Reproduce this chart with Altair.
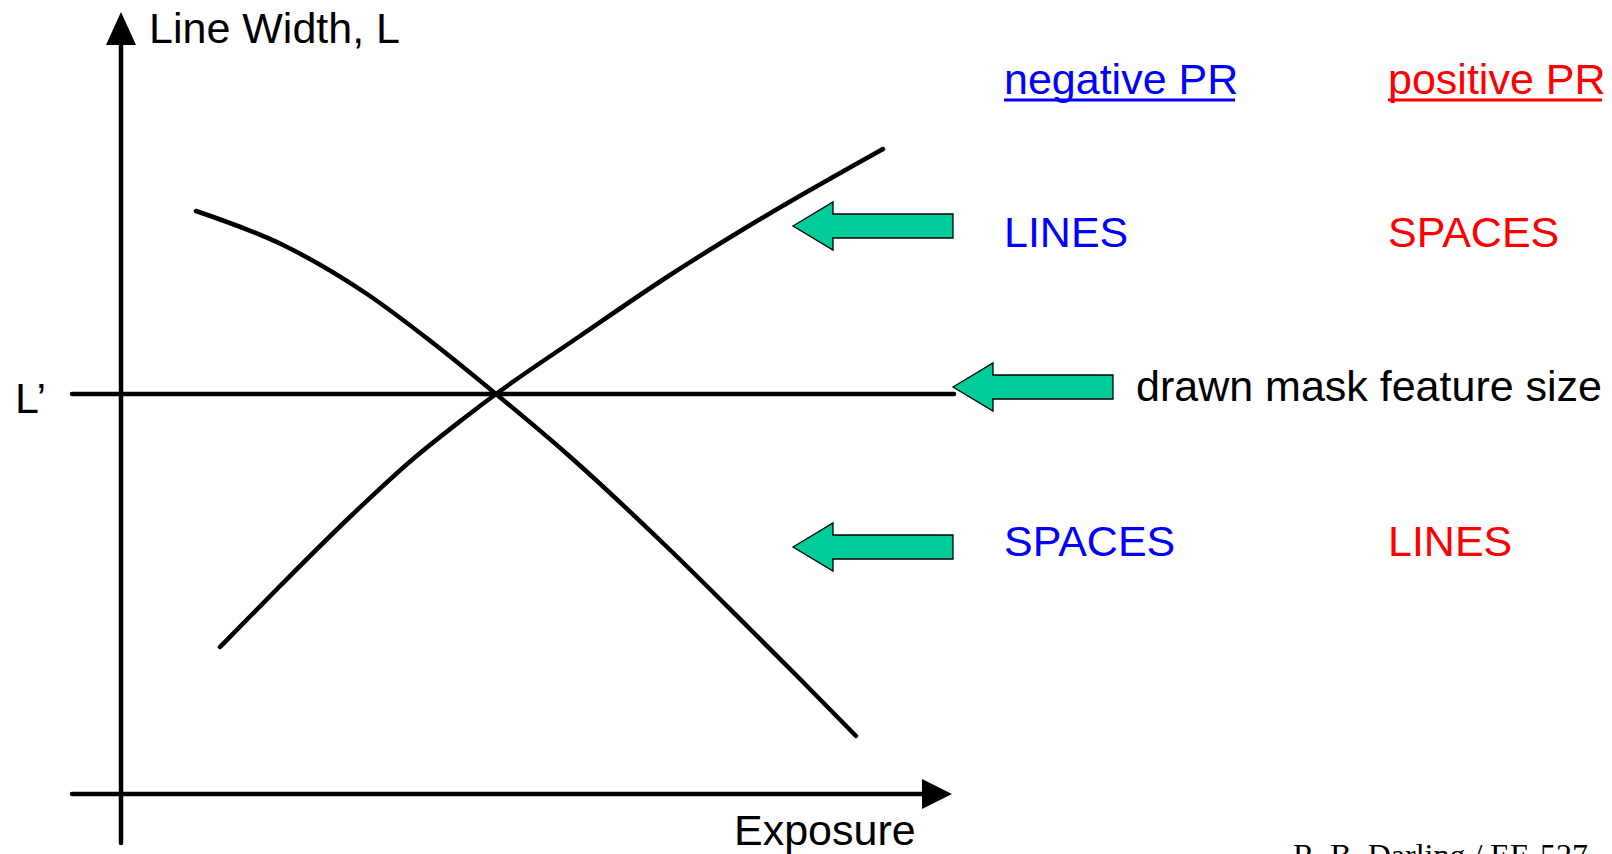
import altair as alt
import pandas as pd

# ---- diagram frame: x = exposure, y = line width (origin at the axes crossing) ----
# decreasing curve
curve_a_x = [75, 162, 246, 312, 375, 446, 546, 629, 679, 735]
curve_a_y = [583, 549, 500, 451, 400, 340, 247, 165, 115, 58]
# increasing curve
curve_b_x = [99, 159, 232, 292, 342, 375, 459, 546, 626, 762]
curve_b_y = [147, 208, 280, 335, 375, 400, 458, 517, 567, 645]

feature_size = 400          # L' (drawn mask feature size)
axis_start = -49            # where both axes begin
x_axis_end = 831            # tip of exposure arrow
y_axis_end = 782            # tip of line-width arrow
lprime_end = 833

# green block arrows: tip x, centre y, total length
arrow_tip_x = [672, 832, 672]
arrow_mid_y = [568, 407, 247]
arrow_len = [160, 160, 160]

# text labels
label_text = ["Line Width, L", "L\u2019", "Exposure", "negative PR", "positive PR",
              "LINES", "SPACES", "drawn mask feature size", "SPACES", "LINES"]
label_x = [28, -106, 613, 883, 1267, 883, 1267, 1015, 883, 1267]
label_y = [751, 381, -51, 700, 700, 547, 547, 393, 238, 238]
label_color = ["#000000", "#000000", "#000000", "#0000FF", "#FF0000",
               "#0000FF", "#FF0000", "#000000", "#0000FF", "#FF0000"]
underline_x = [883, 1267]
underline_x2 = [1114, 1481]
underline_y = [694, 694]
underline_color = ["#0000FF", "#FF0000"]

footer_text = ["R. B. Darling / EE-527"]
footer_x = [1172]
footer_y = [-72]

# ---- scales (1 unit = 1 px) ----
W, H = 1596, 846
xs = alt.Scale(domain=[-113, 1483], nice=False, zero=False)
ys = alt.Scale(domain=[-60, 786], nice=False, zero=False)
GREEN = "#00CC99"
LW = 4.5


def X(f="x"):
    return alt.X(f"{f}:Q", scale=xs, axis=None)


def Y(f="y"):
    return alt.Y(f"{f}:Q", scale=ys, axis=None)


# curves
curves = pd.DataFrame({
    "x": curve_a_x + curve_b_x,
    "y": curve_a_y + curve_b_y,
    "c": ["a"] * len(curve_a_x) + ["b"] * len(curve_b_x),
})
curve_layer = alt.Chart(curves).mark_line(
    color="black", strokeWidth=LW, strokeCap="round", interpolate="monotone"
).encode(x=X(), y=Y(), detail="c:N")

# axes and L' line
rules = pd.DataFrame({
    "x": [axis_start, 0, axis_start],
    "x2": [x_axis_end - 30, 0, lprime_end],
    "y": [0, axis_start, feature_size],
    "y2": [0, y_axis_end - 33, feature_size],
})
rule_layer = alt.Chart(rules).mark_rule(
    color="black", strokeWidth=LW, strokeCap="round"
).encode(x=X(), x2="x2:Q", y=Y(), y2="y2:Q")

# arrow heads of the axes
xhead = pd.DataFrame({"x": [x_axis_end - 30, x_axis_end], "y": [15, 0], "y2": [-15, 0]})
xhead_layer = alt.Chart(xhead).mark_area(color="black", orient="vertical").encode(
    x=X(), y=Y(), y2="y2:Q")
yhead = pd.DataFrame({"y": [y_axis_end - 33, y_axis_end], "x": [-15, 0], "x2": [15, 0]})
yhead_layer = alt.Chart(yhead).mark_area(color="black", orient="horizontal").encode(
    y=Y(), x=X(), x2="x2:Q")

# green block arrows built from tip / centre / length
arrow_layers = []
shaft_rows = []
seam_rows = []
for tx, my, ln in zip(arrow_tip_x, arrow_mid_y, arrow_len):
    head = ln / 4
    tri = pd.DataFrame({"x": [tx, tx + head], "y": [my, my + 24], "y2": [my, my - 24]})
    arrow_layers.append(
        alt.Chart(tri).mark_area(
            fill=GREEN, stroke="black", strokeWidth=1.3, orient="vertical", fillOpacity=1,
            strokeJoin="miter"
        ).encode(x=X(), y=Y(), y2="y2:Q")
    )
    shaft_rows.append({"x": tx + head, "x2": tx + ln, "y": my + 12, "y2": my - 12})
    seam_rows.append({"x": tx + head - 2, "x2": tx + head + 2, "y": my + 11.2, "y2": my - 11.2})

shaft_layer = alt.Chart(pd.DataFrame(shaft_rows)).mark_rect(
    fill=GREEN, stroke="black", strokeWidth=1.3
).encode(x=X(), x2="x2:Q", y=Y(), y2="y2:Q")
seam_layer = alt.Chart(pd.DataFrame(seam_rows)).mark_rect(
    fill=GREEN, strokeWidth=0
).encode(x=X(), x2="x2:Q", y=Y(), y2="y2:Q")

# text
labels = pd.DataFrame({"x": label_x, "y": label_y, "t": label_text, "c": label_color})
text_layer = alt.Chart(labels).mark_text(
    font="Liberation Sans", fontSize=43, align="left", baseline="alphabetic"
).encode(x=X(), y=Y(), text="t:N", color=alt.Color("c:N", scale=None))

ul = pd.DataFrame({"x": underline_x, "x2": underline_x2, "y": underline_y, "c": underline_color})
ul_layer = alt.Chart(ul).mark_rule(strokeWidth=3).encode(
    x=X(), x2="x2:Q", y=Y(), color=alt.Color("c:N", scale=None))

footer = pd.DataFrame({"x": footer_x, "y": footer_y, "t": footer_text})
footer_layer = alt.Chart(footer).mark_text(
    font="Liberation Serif", fontSize=32, align="left", baseline="alphabetic", color="black"
).encode(x=X(), y=Y(), text="t:N")

chart = alt.layer(
    rule_layer, xhead_layer, yhead_layer, curve_layer, *arrow_layers, shaft_layer,
    seam_layer, ul_layer, text_layer, footer_layer
).properties(
    width=W, height=H, padding=0, autosize=alt.AutoSizeParams(type="none"),
    background="white"
).configure_view(strokeWidth=0)

chart.save("out.html", embed_options={"renderer": "svg", "actions": False})
